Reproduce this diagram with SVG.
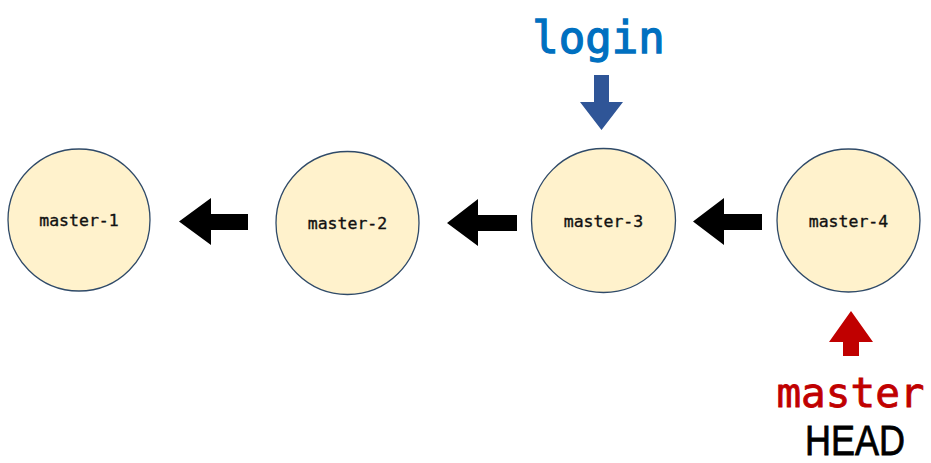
<svg xmlns="http://www.w3.org/2000/svg" width="931" height="463" viewBox="0 0 931 463">
<style>
.node{fill:#fff2cc;stroke:#2f4a68;stroke-width:1.3}
.lbl{font-family:"DejaVu Sans Mono","Liberation Mono",monospace;font-size:16.5px;fill:#111;stroke:#111;stroke-width:0.35;text-anchor:middle}
.conn{fill:#000}
</style>
<rect width="931" height="463" fill="#fff"/>
<g id="master-1"><circle class="node" cx="79" cy="220" r="71"/><text class="lbl" x="79" y="226">master-1</text></g>
<g id="master-2"><circle class="node" cx="347.5" cy="223" r="71.5"/><text class="lbl" x="347.5" y="229">master-2</text></g>
<g id="master-3"><circle class="node" cx="603.5" cy="220.5" r="72"/><text class="lbl" x="603.5" y="227">master-3</text></g>
<g id="master-4"><circle class="node" cx="848.5" cy="220.5" r="71.5"/><text class="lbl" x="848.5" y="227">master-4</text></g>
<g id="connectors">
<polygon class="conn" points="179,221.5 211,198 211,214 248,214 248,230 211,230 211,245"/>
<polygon class="conn" points="447,223 478,199 478,215 517,215 517,231 478,231 478,246"/>
<polygon class="conn" points="693,221.5 724,198 724,214 762,214 762,230 724,230 724,245"/>
</g>
<g id="login">
<text x="598.5" y="53" font-family="DejaVu Sans Mono,Liberation Mono,monospace" font-size="44" fill="#0070c0" stroke="#0070c0" stroke-width="1.3" text-anchor="middle">login</text>
<polygon points="594,75 609,75 609,102 623,102 601.5,130 580,102 594,102" fill="#2f5597"/>
</g>
<g id="master-ref">
<polygon points="851,311 873,342 859,342 859,356 843,356 843,342 829,342" fill="#c00000"/>
<text x="850.5" y="407" font-family="DejaVu Sans Mono,Liberation Mono,monospace" font-size="41" fill="#c00000" stroke="#c00000" stroke-width="0.8" text-anchor="middle">master</text>
<text x="855" y="455" font-family="Liberation Sans,Arial,sans-serif" font-size="42" fill="#000" stroke="#000" stroke-width="0.8" text-anchor="middle" textLength="100" lengthAdjust="spacingAndGlyphs">HEAD</text>
</g>
</svg>
